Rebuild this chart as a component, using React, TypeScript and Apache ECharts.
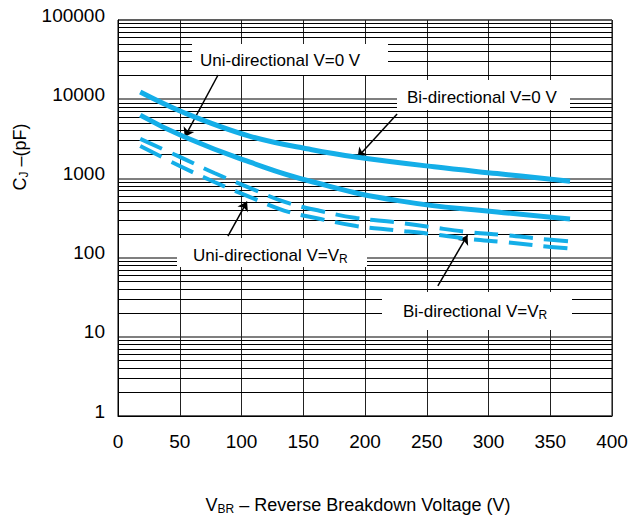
import React, { useEffect, useRef } from 'react';
import * as echarts from 'echarts';

// Breakdown voltage (V) sample points and junction capacitance (pF)
const biZeroV = [18, 54, 107, 157, 194, 256, 307, 366];
const biZeroC = [12300, 6700, 3400, 2300, 1850, 1400, 1150, 920];
const uniZeroV = [18, 54, 107, 158, 228, 307, 366];
const uniZeroC = [6300, 3330, 1600, 900, 520, 377, 308];
const vrV = [18, 50, 78, 107, 135, 164, 193, 224, 253, 284, 313, 343, 366];
const uniVrC = [3150, 1870, 1170, 755, 505, 387, 316, 280, 243, 210, 193, 172, 160];
const biVrC = [2570, 1435, 900, 580, 390, 307, 250, 222, 199, 172, 157, 140, 130];

// Axis ranges
const xMin = 0;
const xMax = 400;
const xStep = 50;
const yMin = 1;
const yMax = 100000;
const decades = [1, 10, 100, 1000, 10000];
const minorMultipliers = [2, 3, 4, 5, 6, 7, 8, 9];

// Annotation arrows: [fromV, fromC, toV, toC]
const arrowUniZero = [81, 20200, 54, 3330];
const arrowBiZero = [226, 6500, 194, 1850];
const arrowUniVr = [89, 187, 104.5, 510];
const arrowBiVr = [259, 44, 283, 192];

const FONT = '"Liberation Sans", Arial, sans-serif';
const CYAN = '#14AEE8';

const zip = (xs: number[], ys: number[]) => xs.map((x, i) => [x, ys[i]]);

export default function App() {
  const ref = useRef<HTMLDivElement>(null);
  useEffect(() => {
    if (!ref.current) return;
    const chart = echarts.init(ref.current, undefined, { renderer: 'svg' });

    const minorLines: any[] = [];
    decades.forEach((d) => minorMultipliers.forEach((m) => minorLines.push({ yAxis: d * m })));

    const arrow = (a: number[]) => [{ coord: [a[0], a[1]] }, { coord: [a[2], a[3]] }];

    const subRich = {
      a: { fontSize: 17, lineHeight: 20, fontFamily: FONT, fill: '#000', color: '#000' },
      s: { fontSize: 12, lineHeight: 12, verticalAlign: 'bottom', fontFamily: FONT, fill: '#000', color: '#000' },
    };

    const box = (x: number, y: number, w: number, h: number, tx: number, ty: number, text: string) => ({
      type: 'group',
      z: 8,
      children: [
        { type: 'rect', z: 8, shape: { x, y, width: w, height: h }, style: { fill: '#fff' } },
        {
          type: 'text',
          z: 9,
          x: tx,
          y: ty,
          style: {
            text,
            rich: subRich,
            font: `17px ${FONT}`,
            fill: '#000',
            verticalAlign: 'middle',
            align: 'left',
          },
        },
      ],
    });

    chart.setOption({
      animation: false,
      backgroundColor: '#fff',
      grid: {
        left: 118,
        right: 20,
        top: 20,
        bottom: 104,
        show: true,
        borderColor: '#000',
        borderWidth: 1,
        containLabel: false,
      },
      xAxis: {
        type: 'value',
        min: xMin,
        max: xMax,
        interval: xStep,
        axisLine: { show: true, lineStyle: { color: '#000', width: 1 } },
        axisTick: { show: false },
        axisLabel: { color: '#000', fontSize: 19, fontFamily: FONT, margin: 16 },
        splitLine: { show: true, lineStyle: { color: '#222', width: 1 } },
      },
      yAxis: {
        type: 'log',
        logBase: 10,
        min: yMin,
        max: yMax,
        axisLine: { show: true, lineStyle: { color: '#000', width: 1 } },
        axisTick: { show: false },
        axisLabel: {
          color: '#000',
          fontSize: 19,
          fontFamily: FONT,
          margin: 13,
          verticalAlign: 'bottom',
          lineHeight: 10,
          formatter: (v: number) => String(Math.round(v)),
        },
        splitLine: { show: true, lineStyle: { color: '#555', width: 1.5 } },
      },
      series: [
        {
          name: 'Bi-directional V=0 V',
          type: 'line',
          z: 10,
          smooth: 0.4,
          showSymbol: false,
          data: zip(biZeroV, biZeroC),
          lineStyle: { color: CYAN, width: 5 },
          markLine: {
            z: 9,
            silent: true,
            symbol: ['none', 'arrow'],
            symbolSize: 9,
            label: { show: false },
            lineStyle: { color: '#000', width: 1.5, type: 'solid' },
            data: [arrow(arrowUniZero), arrow(arrowBiZero), arrow(arrowUniVr), arrow(arrowBiVr)],
          },
        },
        {
          name: 'Uni-directional V=0 V',
          type: 'line',
          z: 10,
          smooth: 0.5,
          showSymbol: false,
          data: zip(uniZeroV, uniZeroC),
          lineStyle: { color: CYAN, width: 5 },
        },
        {
          name: 'Uni-directional V=VR',
          type: 'line',
          z: 10,
          smooth: 0.4,
          showSymbol: false,
          data: zip(vrV, uniVrC),
          lineStyle: { color: CYAN, width: 4, type: [24, 11], cap: 'butt' },
        },
        {
          name: 'Bi-directional V=VR',
          type: 'line',
          z: 10,
          smooth: 0.4,
          showSymbol: false,
          data: zip(vrV, biVrC),
          lineStyle: { color: CYAN, width: 4, type: [24, 11], cap: 'butt' },
          markLine: {
            z: 1,
            silent: true,
            symbol: ['none', 'none'],
            label: { show: false },
            lineStyle: { color: '#000', width: 1, type: 'solid' },
            data: minorLines,
          },
        },
      ],
      graphic: [
        box(192, 44, 196, 31, 200, 60, '{a|Uni-directional V=0 V}'),
        box(397, 80, 173, 30, 407, 97, '{a|Bi-directional V=0 V}'),
        box(177, 238, 190, 29, 193, 255, '{a|Uni-directional V=V}{s|R}'),
        box(382, 292, 190, 38, 403, 311, '{a|Bi-directional V=V}{s|R}'),
        {
          type: 'text',
          z: 9,
          x: 358,
          y: 505,
          style: {
            text: '{a|V}{s|BR}{a| – Reverse Breakdown Voltage (V)}',
            rich: {
              a: { fontSize: 18, lineHeight: 20, fontFamily: FONT, fill: '#000', color: '#000' },
              s: { fontSize: 12, lineHeight: 12, verticalAlign: 'bottom', fontFamily: FONT, fill: '#000', color: '#000' },
            },
            align: 'center',
            verticalAlign: 'middle',
          },
        },
        {
          type: 'text',
          z: 9,
          x: 20,
          y: 157,
          rotation: Math.PI / 2,
          style: {
            text: '{a|C}{s|J}{a| –(pF)}',
            rich: {
              a: { fontSize: 18, lineHeight: 20, fontFamily: FONT, fill: '#000', color: '#000' },
              s: { fontSize: 12, lineHeight: 12, verticalAlign: 'bottom', fontFamily: FONT, fill: '#000', color: '#000' },
            },
            align: 'center',
            verticalAlign: 'middle',
          },
        },
      ],
    });
    return () => chart.dispose();
  }, []);
  return <div ref={ref} style={{ position: 'fixed', left: 0, top: 0, width: 632, height: 520 }} />;
}
